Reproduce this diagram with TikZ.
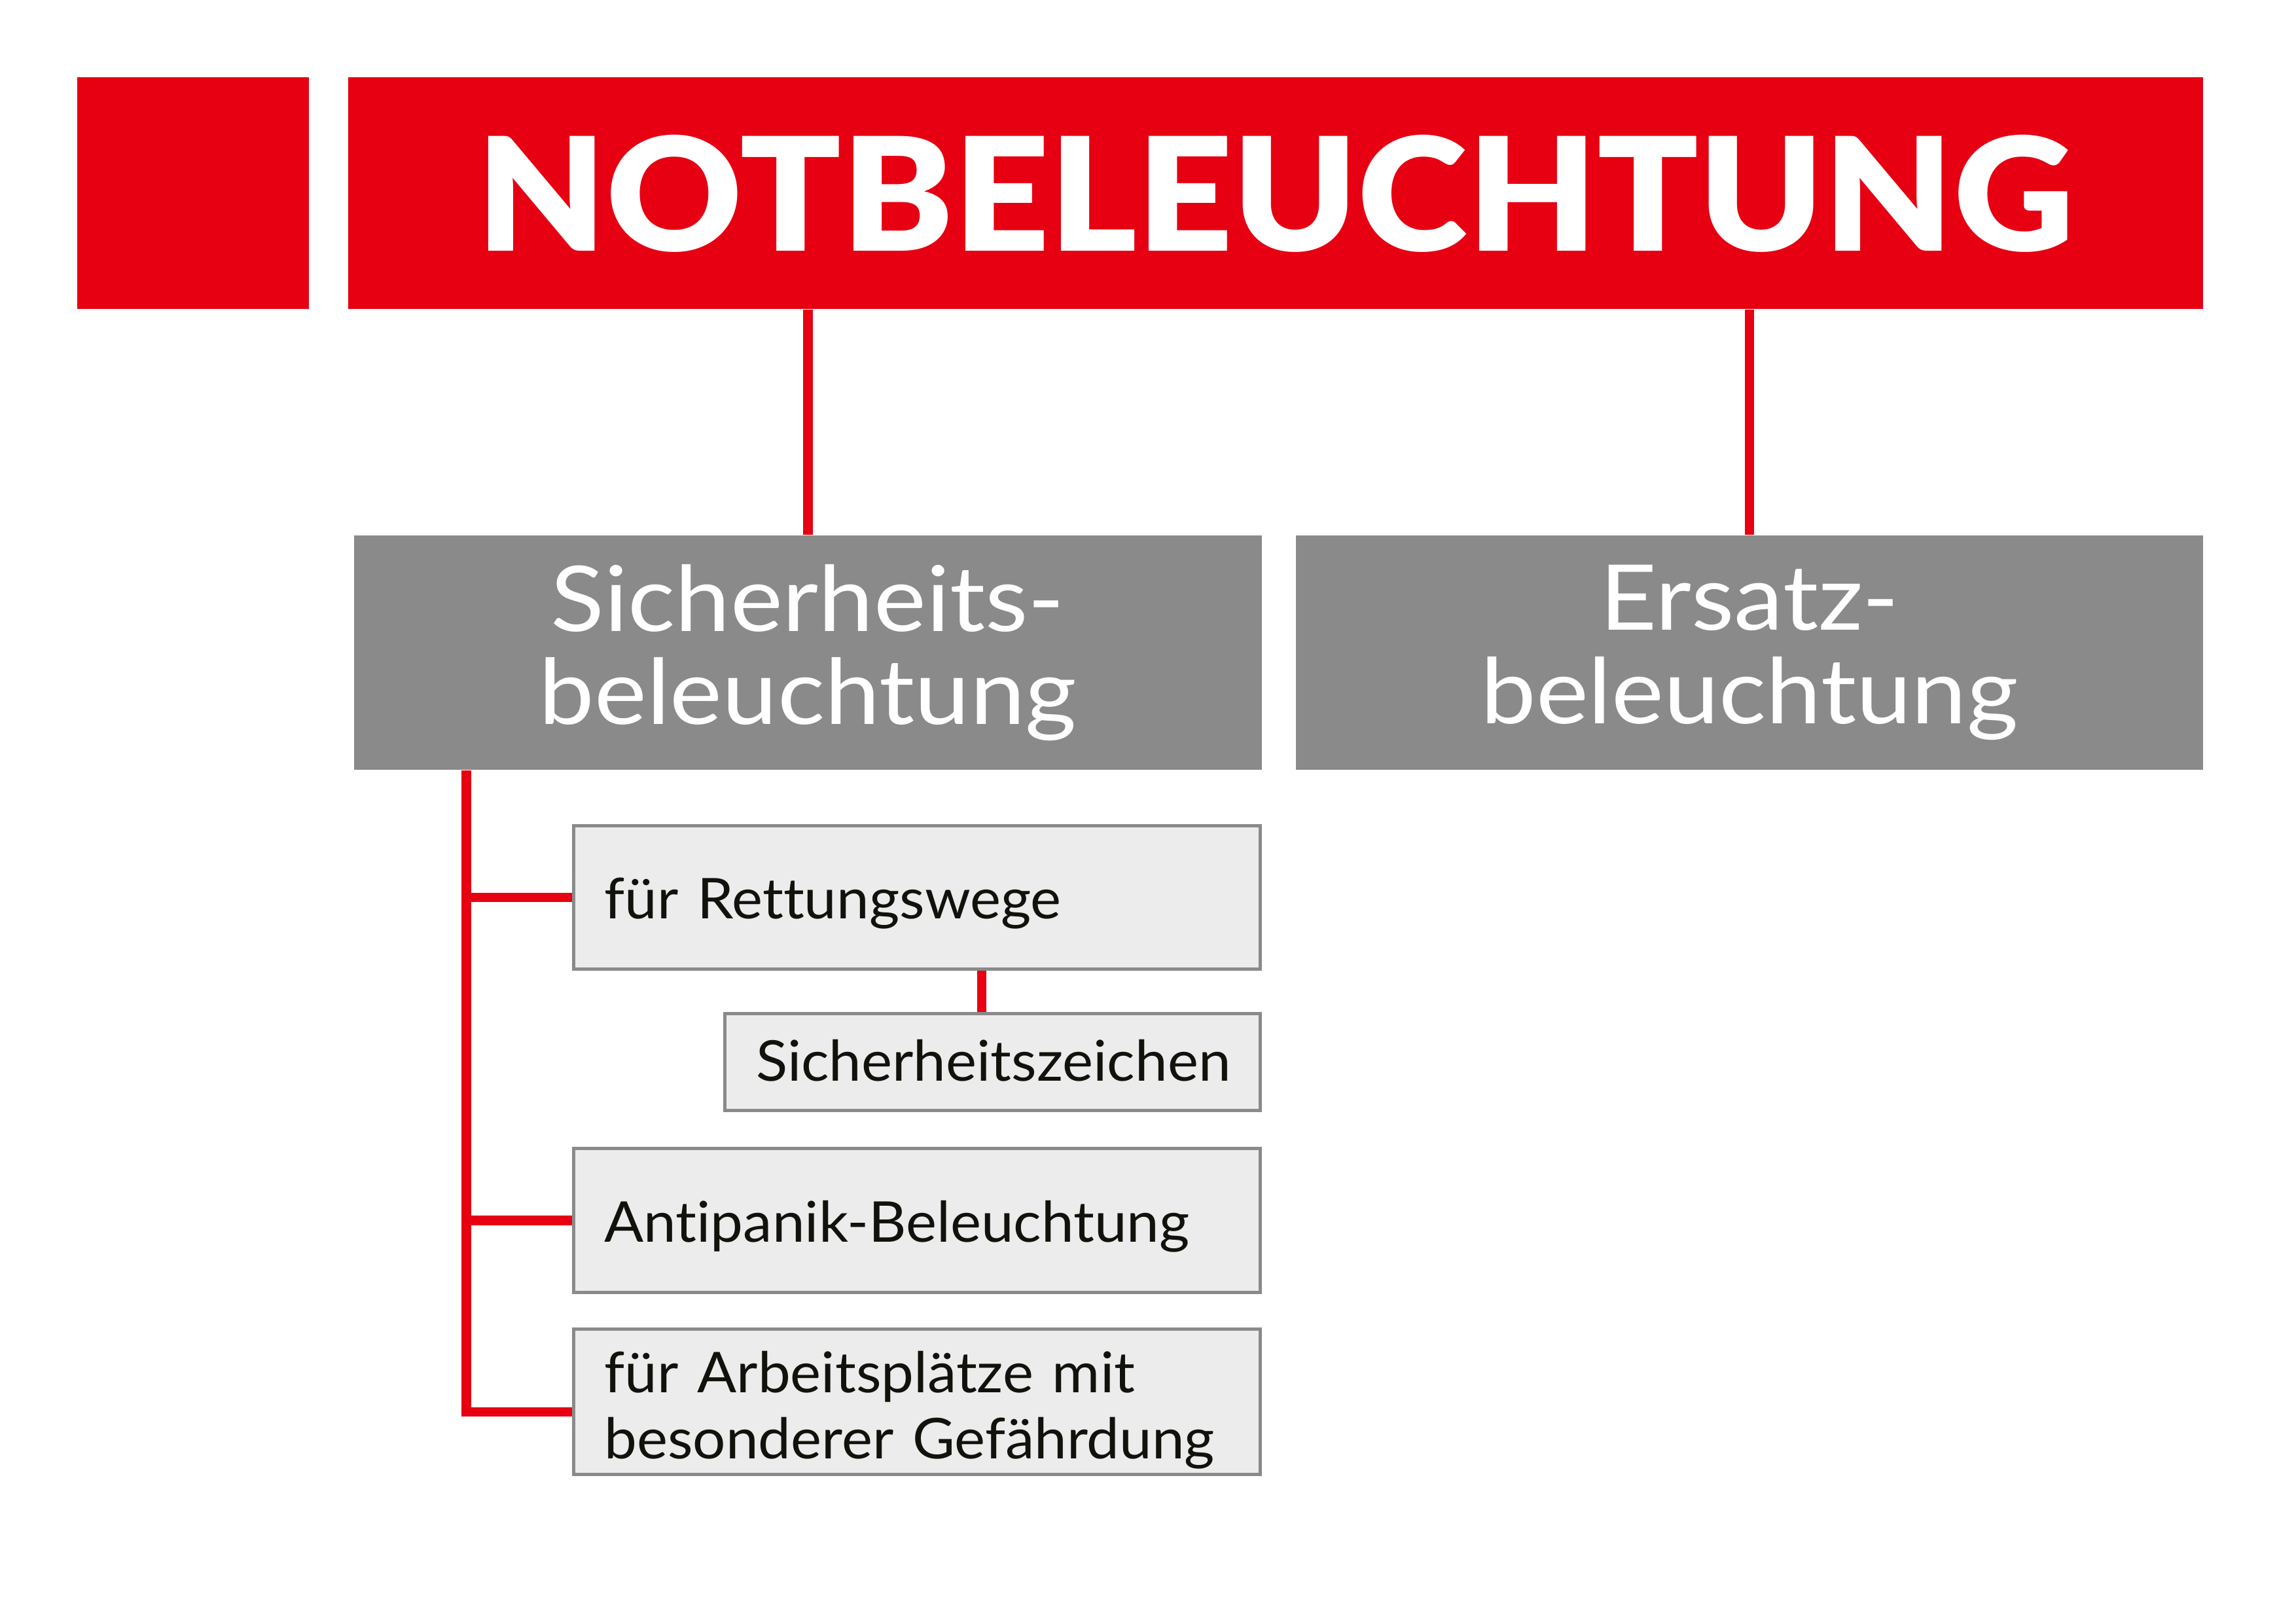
\documentclass[tikz,border=0pt]{standalone}
\usepackage{fontspec}
\setmainfont{Lato}[Ligatures=CommonOff]
\newfontfamily\titlefont{Lato Black}[FakeStretch=1.06]
\usepackage{tikz}
\usetikzlibrary{positioning}
\definecolor{notred}{RGB}{230,0,18}
\definecolor{notgray}{RGB}{137,138,137}
\definecolor{itemfill}{RGB}{236,236,236}
\definecolor{itemdraw}{RGB}{138,138,138}
\definecolor{itemtext}{RGB}{18,18,13}

\begin{document}
\begin{tikzpicture}[
    redbar/.style={rectangle, fill=notred, minimum height=3cm, inner sep=0pt},
    group/.style={rectangle, fill=notgray, minimum width=11.74cm, minimum height=3.03cm, inner sep=0pt, text=white, align=center, font=\fontsize{33.4}{34.3}\selectfont\addfontfeatures{FakeStretch=1.09}},
    item/.style={rectangle, draw=itemdraw, line width=1.2pt, fill=itemfill, minimum width=8.88cm, minimum height=1.86cm, inner xsep=0.4cm, text width=8.08cm, text height=20pt, text depth=4.2pt, align=left, text=itemtext, font=\fontsize{20.7}{24.4}\selectfont\addfontfeatures{FakeStretch=1.035}},
    link/.style={draw=notred, line width=3.5pt}
]
    \useasboundingbox (0,0) rectangle (29.7,-21);

    % Title
    \node[redbar, minimum width=3cm] (mark) at (2.5, -2.5) {};
    \node[redbar, minimum width=24cm, text=white, font=\titlefont\fontsize{58}{60}\selectfont] (title) at (16.5, -2.5) {NOTBELEUCHTUNG};

    % Two kinds
    \node[group] (sb) at (10.45, -8.44) {Sicherheits-\\beleuchtung};
    \node[group] (eb) at (22.63, -8.44) {Ersatz-\\beleuchtung};

    \draw[link] (sb.north) -- (sb.north |- title.south);
    \draw[link] (eb.north) -- (eb.north |- title.south);

    % Items
    \node[item] (rw) at (11.86, -11.606) {für Rettungswege};
    \node[item, minimum width=6.92cm, text width=6.12cm, minimum height=1.25cm, text depth=6pt] (sz) at (12.84, -13.737) {Sicherheitszeichen};
    \node[item] (ap) at (11.86, -15.783) {Antipanik-Beleuchtung};
    \node[item, text depth=26.8pt] (ag) at (11.86, -18.133) {für Arbeitsplätze mit\\besonderer Gefährdung};

    % Tree
    \coordinate (trunk) at (6.03, 0);
    \draw[link] (trunk |- sb.south) |- ([yshift=-0.127cm]ag.west);
    \draw[link] (trunk |- rw.west) -- (rw.west);
    \draw[link] (trunk |- ap.west) -- (ap.west);
    \draw[link] ([xshift=-0.14cm]sz.north) -- ([xshift=-0.14cm]sz.north |- rw.south);
\end{tikzpicture}
\end{document}
